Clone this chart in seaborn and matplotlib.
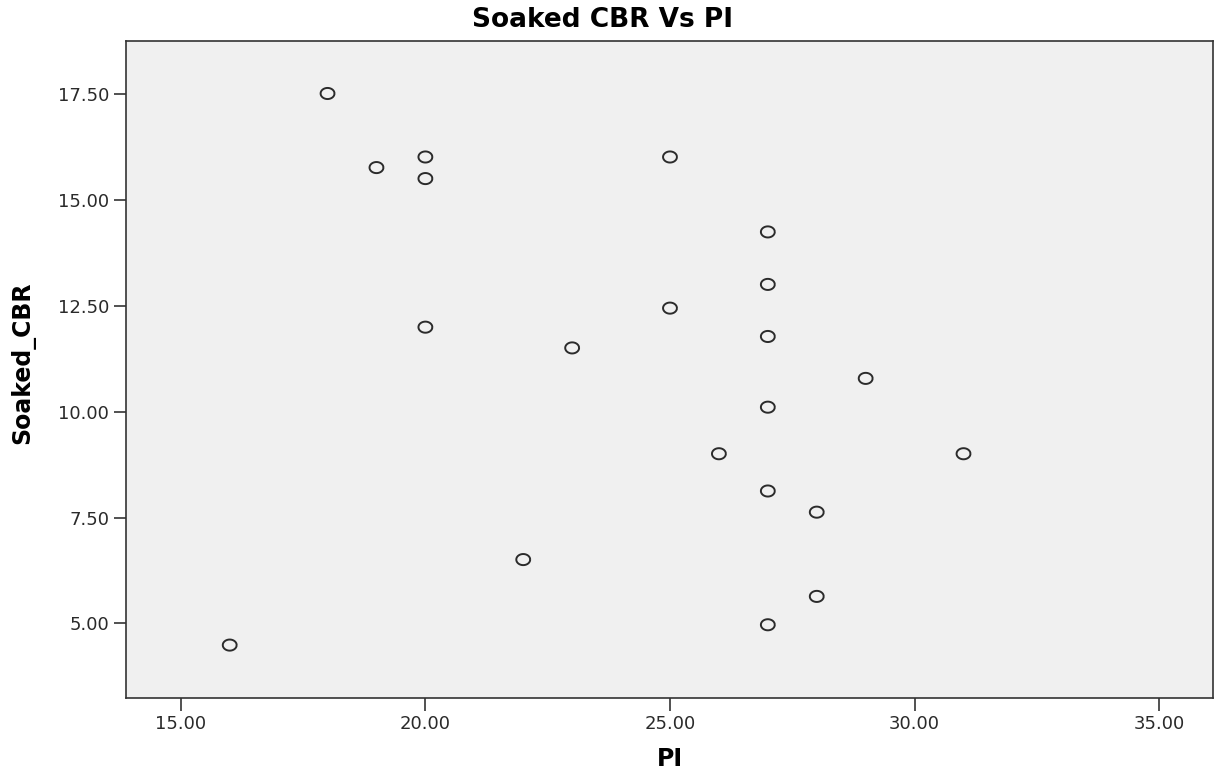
import numpy as np
import pandas as pd
import matplotlib
matplotlib.use("Agg")
import matplotlib.pyplot as plt
from matplotlib.ticker import FormatStrFormatter, FixedLocator
import seaborn as sns

# values
pi_values = [16, 18, 19, 20, 20, 20, 22, 23, 25, 25, 26,
             27, 27, 27, 27, 27, 27, 28, 28, 29, 31]
soaked_cbr = [4.49, 17.52, 15.77, 16.02, 15.51, 12.00, 6.51, 11.51, 16.02, 12.45, 9.01,
              14.25, 13.01, 11.78, 10.11, 8.13, 4.97, 7.63, 5.64, 10.79, 9.01]
x_ticks = [15, 20, 25, 30, 35]
y_ticks = [5.0, 7.5, 10.0, 12.5, 15.0, 17.5]

df = pd.DataFrame({"PI": pi_values, "Soaked_CBR": soaked_cbr})

sns.set_style("white")
plt.rcParams["font.family"] = ["DejaVu Sans"]

fig = plt.figure(figsize=(12.17, 7.74), dpi=100)
ax = fig.add_axes([126 / 1217, 1 - 698 / 774, (1213 - 126) / 1217, (698 - 41) / 774])
ax.set_facecolor("#F0F0F0")

# slightly wide ellipse marker like the reference
t = np.linspace(0, 2 * np.pi, 40)
ellipse = np.column_stack([1.25 * np.cos(t), np.sin(t)])

sns.scatterplot(data=df, x="PI", y="Soaked_CBR", ax=ax, marker=ellipse, s=100,
                facecolor="none", edgecolor="#2b2b2b", linewidth=1.4)

ax.set_xlim(13.88, 36.1)
ax.set_ylim(3.24, 18.76)
ax.xaxis.set_major_locator(FixedLocator(x_ticks))
ax.yaxis.set_major_locator(FixedLocator(y_ticks))
ax.xaxis.set_major_formatter(FormatStrFormatter("%.2f"))
ax.yaxis.set_major_formatter(FormatStrFormatter("%.2f"))
ax.tick_params(axis="both", direction="out", length=9, width=1.2, color="#333333",
               labelsize=13, labelcolor="#2a2a2a", pad=3, bottom=True, left=True)

for sp in ax.spines.values():
    sp.set_color("#333333")
    sp.set_linewidth(1.2)

ax.set_xlabel("PI", fontsize=17, fontweight="bold", color="black")
ax.set_ylabel("Soaked_CBR", fontsize=17, fontweight="bold", color="black")
ax.xaxis.set_label_coords(0.5, -(759 - 698) / 657, transform=ax.transAxes)
ax.xaxis.label.set_va("center")
ax.yaxis.set_label_coords(-(126 - 23) / 1087, 0.51)
ax.yaxis.label.set_va("center")

fig.text(602 / 1217, 1 - 20 / 774, "Soaked CBR Vs PI", fontsize=19, fontweight="bold",
         color="black", ha="center", va="center")

fig.savefig("out.png", dpi=100)
